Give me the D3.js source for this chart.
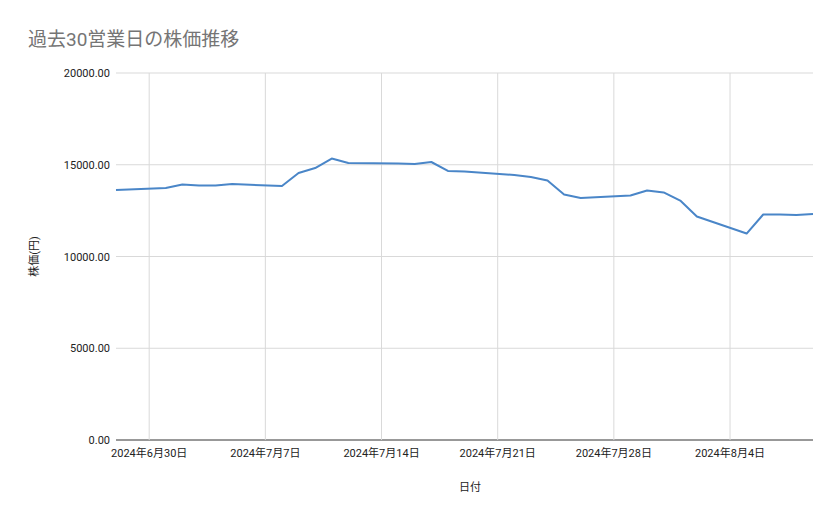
<!DOCTYPE html>
<html><head><meta charset="utf-8">
<script src="https://d3js.org/d3.v7.min.js"></script>
<style>body{margin:0;background:#fff}text{font-family:Roboto,"Noto Sans CJK JP",sans-serif}</style>
</head><body><svg id="c" width="839" height="519"></svg>
<script>
const dates = ["2024-06-28","2024-07-01","2024-07-02","2024-07-03","2024-07-04","2024-07-05",
  "2024-07-08","2024-07-09","2024-07-10","2024-07-11","2024-07-12","2024-07-15","2024-07-16",
  "2024-07-17","2024-07-18","2024-07-19","2024-07-22","2024-07-23","2024-07-24","2024-07-25",
  "2024-07-26","2024-07-29","2024-07-30","2024-07-31","2024-08-01","2024-08-02","2024-08-05",
  "2024-08-06","2024-08-07","2024-08-08","2024-08-09"];
const prices = [13620,13730,13920,13870,13870,13950,13840,14550,14820,15340,15100,15070,15040,
  15150,14660,14630,14440,14330,14140,13380,13190,13320,13600,13490,13050,12180,11250,
  12290,12290,12260,12310];
const xTicks = ["2024-06-30","2024-07-07","2024-07-14","2024-07-21","2024-07-28","2024-08-04"];
const yTicks = [0,5000,10000,15000,20000];

const parse = d3.timeParse("%Y-%m-%d");
const svg = d3.select("#c");
const m = {left:116, right:26, top:73, bottom:79};
const W = 839 - m.left - m.right, H = 519 - m.top - m.bottom;
const g = svg.append("g").attr("transform", `translate(${m.left},${m.top})`);

const x = d3.scaleTime().domain([parse(dates[0]), parse(dates[dates.length-1])]).range([0, W]);
const y = d3.scaleLinear().domain([0, 20000]).range([H, 0]);

// grid
g.selectAll(".hg").data(yTicks).enter().append("line")
  .attr("x1",0).attr("x2",W).attr("y1",d=>y(d)).attr("y2",d=>y(d))
  .attr("stroke",d=>d===0?"#333":"#d9d9d9");
g.selectAll(".vg").data(xTicks).enter().append("line")
  .attr("x1",d=>x(parse(d))).attr("x2",d=>x(parse(d))).attr("y1",0).attr("y2",H)
  .attr("stroke","#d9d9d9");

// y labels
g.selectAll(".yl").data(yTicks).enter().append("text")
  .attr("x",-6).attr("y",d=>y(d)+4).attr("text-anchor","end")
  .attr("font-size",11).attr("fill","#222").text(d=>d3.format(".2f")(d));
// x labels
const fmt = d => { const t = parse(d); return `${t.getFullYear()}年${t.getMonth()+1}月${t.getDate()}日`; };
g.selectAll(".xl").data(xTicks).enter().append("text")
  .attr("x",d=>x(parse(d))).attr("y",H+17).attr("text-anchor","middle")
  .attr("font-size",11).attr("fill","#222").text(fmt);

// line
g.append("path").datum(dates.map((d,i)=>[parse(d),prices[i]]))
  .attr("fill","none").attr("stroke","#4a86c8").attr("stroke-width",2)
  .attr("stroke-linejoin","round")
  .attr("d", d3.line().x(d=>x(d[0])).y(d=>y(d[1])));

// titles
svg.append("text").attr("x",28).attr("y",46).attr("font-size",19).attr("fill","#757575")
  .text("過去30営業日の株価推移");
svg.append("text").attr("x",470).attr("y",491).attr("text-anchor","middle")
  .attr("font-size",11).attr("fill","#222").text("日付");
svg.append("text").attr("transform",`translate(38,${m.top+H/2}) rotate(-90)`)
  .attr("text-anchor","middle").attr("font-size",11).attr("fill","#222").text("株価(円)");
</script></body></html>
